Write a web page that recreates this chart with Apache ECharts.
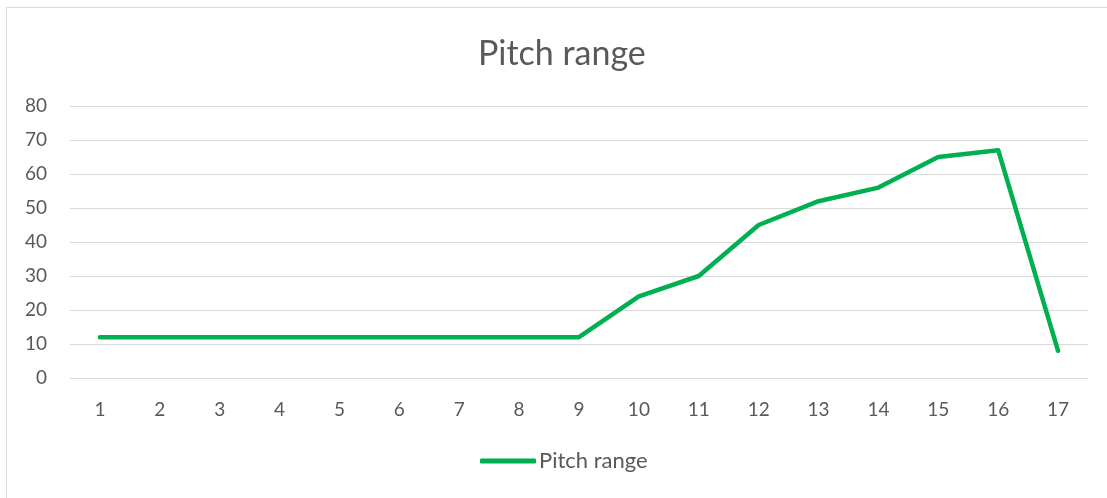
<!DOCTYPE html>
<html>
<head>
<meta charset="utf-8">
<script src="https://cdn.jsdelivr.net/npm/echarts@6/dist/echarts.min.js"></script>
<style>
  html, body { margin: 0; padding: 0; background: #fff; }
  #main { width: 1107px; height: 498px; }
</style>
</head>
<body>
<div id="main"></div>
<script>
var categories = ['1','2','3','4','5','6','7','8','9','10','11','12','13','14','15','16','17'];
var pitchRange = [12, 12, 12, 12, 12, 12, 12, 12, 12, 24, 30, 45, 52, 56, 65, 67, 8];
var seriesName = 'Pitch range';

var myChart = echarts.init(document.getElementById('main'));
var fontFamily = 'Lato, "Open Sans", sans-serif';

myChart.setOption({
    animation: false,
    backgroundColor: '#fff',
    textStyle: { fontFamily: fontFamily },
    graphic: [{
        type: 'rect',
        shape: { x: 6.5, y: 7.5, width: 1110, height: 500 },
        style: { fill: 'none', stroke: '#d9d9d9', lineWidth: 1 },
        silent: true
    }],
    title: {
        text: seriesName,
        left: 473,
        top: 32,
        textStyle: { fontFamily: fontFamily, fontSize: 34, fontWeight: 'normal', color: '#595959' }
    },
    legend: {
        bottom: 21,
        left: 475,
        icon: 'roundRect',
        itemWidth: 56,
        itemHeight: 5,
        data: [seriesName],
        textStyle: { fontFamily: fontFamily, fontSize: 22, color: '#595959', padding: [0, 0, 0, -2] }
    },
    grid: { left: 70, right: 19, top: 106, bottom: 120, containLabel: false },
    xAxis: {
        type: 'category',
        data: categories,
        boundaryGap: true,
        axisLine: { show: false },
        axisTick: { show: false },
        axisLabel: { fontFamily: fontFamily, fontSize: 19, color: '#595959', margin: 22 }
    },
    yAxis: {
        type: 'value',
        min: 0,
        max: 80,
        interval: 10,
        axisLine: { show: false },
        axisTick: { show: false },
        axisLabel: { fontFamily: fontFamily, fontSize: 19, color: '#595959', margin: 23 },
        splitLine: { lineStyle: { color: '#d9d9d9', width: 1 } }
    },
    series: [{
        name: seriesName,
        type: 'line',
        data: pitchRange,
        symbol: 'none',
        lineStyle: { color: '#00b050', width: 4.5, cap: 'round', join: 'round' },
        itemStyle: { color: '#00b050' }
    }]
});
</script>
</body>
</html>
